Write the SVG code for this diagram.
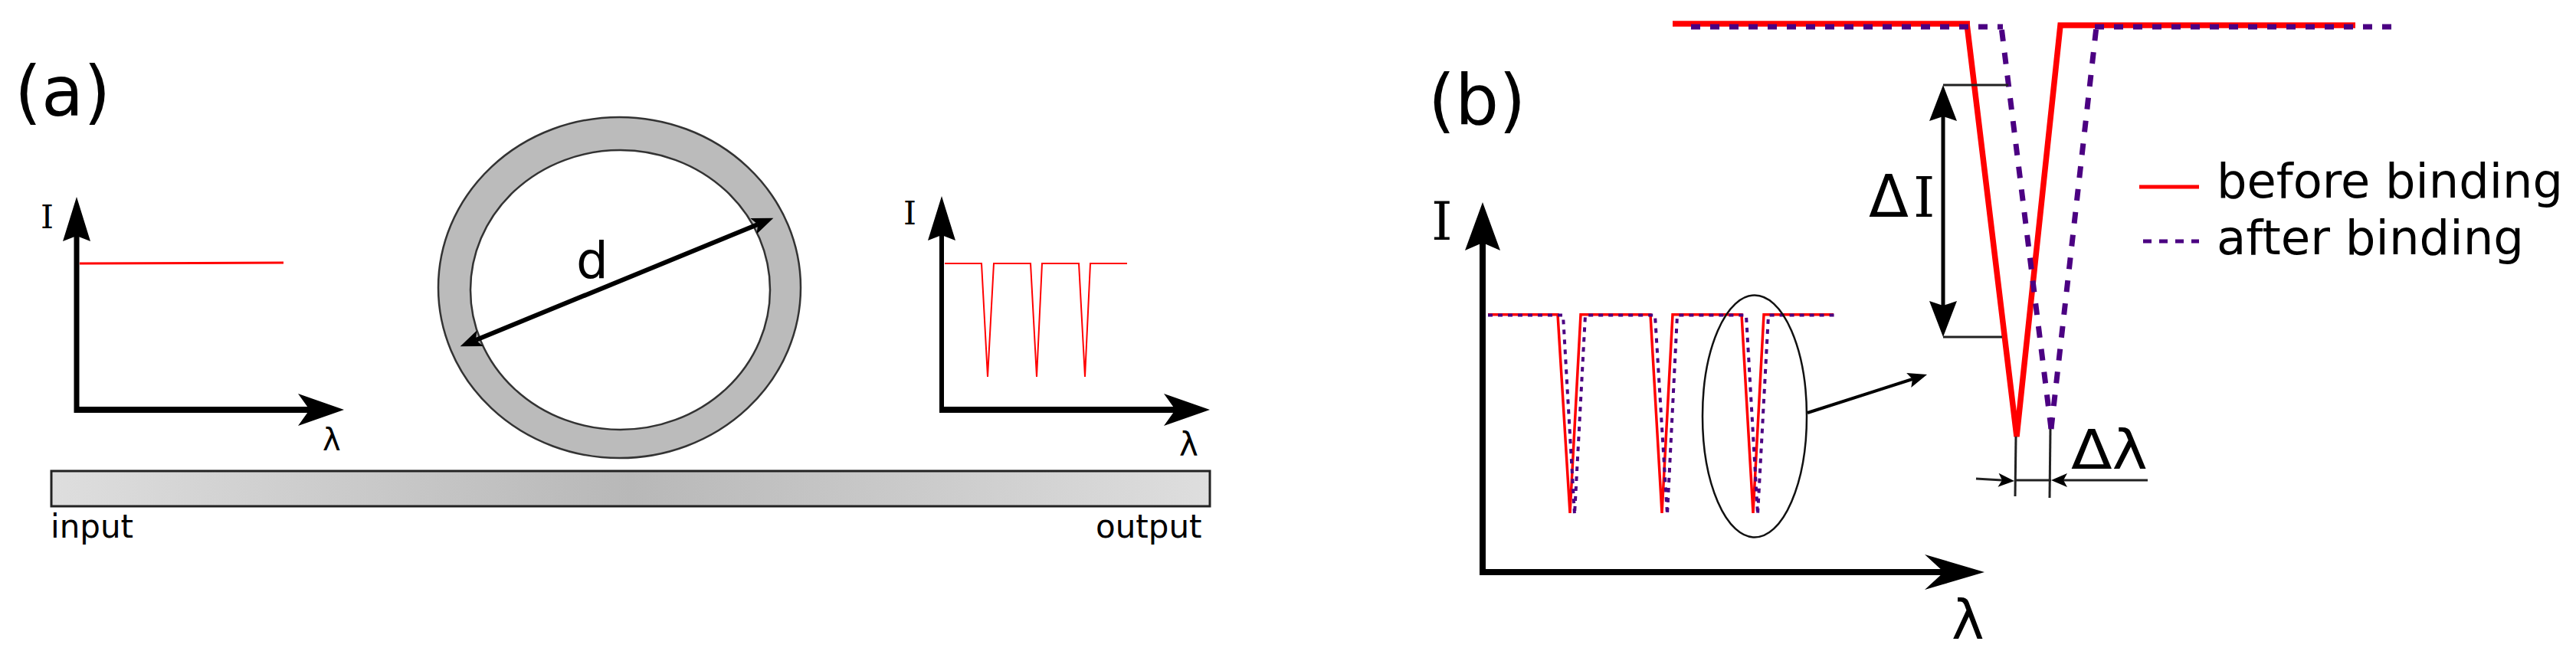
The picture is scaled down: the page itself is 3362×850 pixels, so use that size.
<svg xmlns="http://www.w3.org/2000/svg" width="3362" height="850" viewBox="0 0 3362 850">
<style>
text{font-family:"DejaVu Sans",sans-serif;fill:#000}
.s{font-family:"DejaVu Serif",serif}
.ax{fill:none;stroke:#000}
.r{fill:none;stroke:#f00;stroke-linejoin:miter}
.p{fill:none;stroke:#4b0082}
.t{fill:none;stroke:#222;stroke-width:3}
</style>
<defs>
<linearGradient id="wg" x1="0" x2="1" y1="0" y2="0"><stop offset="0" stop-color="#dedede"/><stop offset=".5" stop-color="#b8b8b8"/><stop offset="1" stop-color="#dedede"/></linearGradient>
<marker id="mah" markerUnits="userSpaceOnUse" markerWidth="62" markerHeight="44" refX="15" refY="22" orient="auto-start-reverse"><path d="M0,1L60,22L0,43L15,22Z"/></marker>
<marker id="mav" markerUnits="userSpaceOnUse" markerWidth="60" markerHeight="38" refX="7" refY="19" orient="auto-start-reverse"><path d="M0,1L58,19L0,37L7,19Z"/></marker>
<marker id="mbv" markerUnits="userSpaceOnUse" markerWidth="65" markerHeight="48" refX="10" refY="24" orient="auto-start-reverse"><path d="M0,1L63,24L0,47L10,24Z"/></marker>
<marker id="mbh" markerUnits="userSpaceOnUse" markerWidth="80" markerHeight="48" refX="25" refY="24" orient="auto-start-reverse"><path d="M0,1L78,24L0,47L25,24Z"/></marker>
<marker id="mdi" markerUnits="userSpaceOnUse" markerWidth="49" markerHeight="38" refX="6" refY="19" orient="auto-start-reverse"><path d="M0,1L47,19L0,37L6,19Z"/></marker>
<marker id="md" markerUnits="userSpaceOnUse" markerWidth="30" markerHeight="24" refX="6" refY="12" orient="auto-start-reverse"><path d="M0,1L28,12L0,23L6,12Z"/></marker>
<marker id="ms" markerUnits="userSpaceOnUse" markerWidth="23" markerHeight="20" refX="5" refY="10" orient="auto-start-reverse"><path d="M0,1L21,10L0,19L5,10Z"/></marker>
<marker id="mc" markerUnits="userSpaceOnUse" markerWidth="27" markerHeight="22" refX="5" refY="11" orient="auto-start-reverse"><path d="M0,1L25,11L0,21L5,11Z"/></marker>
</defs>
<rect width="3362" height="850" fill="#fff"/>
<g id="ring"><path fill="#bbb" fill-rule="evenodd" stroke="#333" stroke-width="2.5" d="M572,375.500a236.500,222.500 0 1,0 473,0a236.500,222.500 0 1,0 -473,0ZM614,378.500a195.500,182.500 0 1,1 391,0a195.500,182.500 0 1,1 -391,0Z"/></g>
<g id="waveguide"><rect x="67" y="615" width="1512" height="46" fill="url(#wg)" stroke="#222" stroke-width="3"/></g>
<g id="panel-a-labels">
<text x="19" y="151" font-size="90">(a)</text>
<text x="752" y="363" font-size="66">d</text>
<text x="66" y="702" font-size="42">input</text>
<text x="1430" y="702" font-size="42">output</text>
</g>
<g id="input-spectrum">
<path class="r" stroke-width="3" d="M104,344L370,343"/>
<text class="s" x="53" y="298" font-size="43">I</text>
<text x="421" y="588" font-size="40">λ</text>
</g>
<g id="output-spectrum">
<path class="r" stroke-width="2" d="M1233,344H1281L1289,492L1297,344H1345L1353,492L1360,344H1408L1416,492L1423,344H1471"/>
<text class="s" x="1179" y="293" font-size="43">I</text>
<text x="1539" y="595" font-size="42">λ</text>
</g>
<g id="panel-b-labels">
<text x="1864" y="162" font-size="90">(b)</text>
<text class="s" x="1868" y="313" font-size="70">I</text>
<text x="2547" y="834" font-size="72">λ</text>
<text x="2439" y="283" font-size="76">Δ</text>
<text class="s" x="2497" y="283" font-size="72">I</text>
<text x="2703" y="612" font-size="72" textLength="100" lengthAdjust="spacingAndGlyphs">Δλ</text>
</g>
<g id="small-spectrum">
<path class="r" stroke-width="3.500" d="M1942,410.700H2033L2049,670L2063,410.700H2154L2169,670L2183,410.700H2273L2288,670L2302,410.700H2393"/>
<path class="p" stroke-width="4" stroke-dasharray="6 7" d="M1942,411.500H2040L2055,672L2069,411.500H2160L2176,672L2189,411.500H2279L2294,672L2308,411.500H2395"/>
</g>
<g id="large-spectrum">
<path class="r" stroke-width="7.500" d="M2183,31H2571"/>
<path class="r" stroke-width="7.500" d="M2567,31L2632,570L2689,33H3074"/>
<path class="p" stroke-width="7" stroke-dasharray="12 13" d="M2207,35H2614"/>
<path class="p" stroke-width="7" stroke-dasharray="15 15" d="M2677,560L2612,35"/>
<path class="p" stroke-width="7" stroke-dasharray="15 15" d="M2677,560L2736,35"/>
<path class="p" stroke-width="7" stroke-dasharray="12 13" d="M2734,35H3121"/>
</g>
<g id="zoom-ellipse"><ellipse cx="2290" cy="543.500" rx="68" ry="158" fill="none" stroke="#111" stroke-width="2.500"/></g>
<g id="legend">
<path class="r" stroke-width="5" d="M2792,244H2870"/>
<text x="2893" y="258" font-size="63" textLength="452" lengthAdjust="spacingAndGlyphs">before binding</text>
<path class="p" stroke-width="5" stroke-dasharray="11 10" d="M2797,315H2870"/>
<text x="2893" y="332" font-size="63" textLength="401" lengthAdjust="spacingAndGlyphs">after binding</text>
</g>
<g id="connectors">
<path class="ax" stroke-width="7" marker-end="url(#mav)" d="M100,539V308"/>
<path class="ax" stroke-width="8" marker-end="url(#mah)" d="M97,535H404"/>
<path class="ax" stroke-width="6" marker-start="url(#md)" marker-end="url(#md)" d="M621,444L989,293"/>
<path class="ax" stroke-width="6" marker-end="url(#mav)" d="M1229,538V307"/>
<path class="ax" stroke-width="8" marker-end="url(#mah)" d="M1226,535H1534"/>
<path class="ax" stroke-width="8" marker-end="url(#mbv)" d="M1935,751V317"/>
<path class="ax" stroke-width="8" marker-end="url(#mbh)" d="M1931,747H2537"/>
<path class="ax" stroke-width="4" marker-end="url(#mc)" d="M2359,539L2496,495"/>
<path class="ax" stroke-width="5" marker-start="url(#mdi)" marker-end="url(#mdi)" d="M2536,152V399"/>
<path class="t" d="M2536,111H2621"/>
<path class="t" d="M2536,440H2613"/>
<path class="t" d="M2631,570L2630,648"/>
<path class="t" d="M2676,560L2675,650"/>
<path class="t" marker-end="url(#ms)" d="M2579,625L2613,627"/>
<path class="t" marker-end="url(#ms)" d="M2803,627H2693"/>
<path class="t" stroke-width="2" d="M2629,627H2677"/>
</g>
</svg>
